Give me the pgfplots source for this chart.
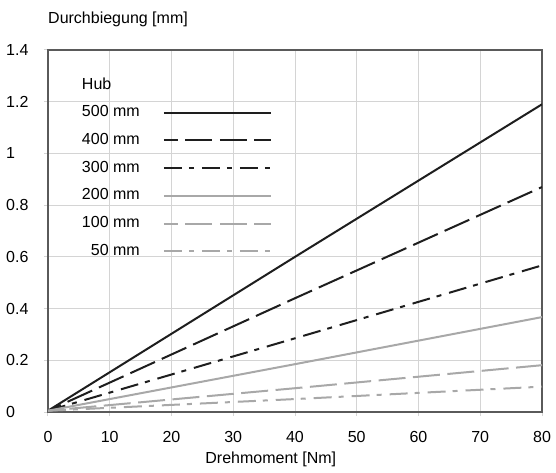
\documentclass[border=0pt]{standalone}
\usepackage{fontspec}
\setmainfont{Liberation Sans}
\usepackage{pgfplots}
\pgfplotsset{compat=1.18}
\definecolor{lgray}{RGB}{168,168,168}
\definecolor{gridc}{RGB}{212,212,212}
\definecolor{axc}{RGB}{90,90,90}
\definecolor{dk}{RGB}{30,30,30}
\newcommand{\ff}{\fontsize{16}{19}\selectfont}
\begin{document}
\begin{tikzpicture}
\begin{axis}[
  name=ax,
  scale only axis,
  width=494pt, height=362pt,
  xmin=0, xmax=80, ymin=0, ymax=1.4,
  xtick={0,10,...,80},
  ytick={0,0.2,...,1.4},
  /pgf/number format/assume math mode=true,
  yticklabel style={/pgf/number format/fixed, /pgf/number format/precision=1},
  grid=major,
  grid style={gridc, line width=1pt},
  axis line style={axc, line width=1.2pt},
  tick align=outside,
  major tick length=4pt,
  tick style={gridc, line width=1pt},
  xtick pos=bottom, ytick pos=left,
  tick label style={font=\ff},
  xticklabel style={anchor=base, yshift=-26pt, inner sep=0pt},
  yticklabel style={anchor=west, xshift=-38pt, inner sep=0pt},
  xlabel={Drehmoment [Nm]},
  ylabel={Durchbiegung [mm]},
  label style={font=\ff},
  xlabel style={at={(axis description cs:0.451,0)}, anchor=base, yshift=-51pt, inner sep=0pt},
  ylabel style={rotate=-90, at={(axis description cs:0,1)}, anchor=base west, yshift=26pt, inner sep=0pt},
  legend plot pos=right,
  legend cell align=right,
  legend image code/.code={\draw[#1] (0pt,0pt) -- (107pt,0pt);},
  legend style={font=\ff, draw=none, fill=none, inner sep=0pt, outer sep=0pt,
    at={(axis description cs:0.0688,0.9254)}, anchor=north west,
    nodes={inner sep=0pt, text height=12pt, text depth=4pt},
    row sep=11.7pt, column sep=23pt},
]
\addlegendimage{empty legend}
\addlegendentry{\rlap{Hub}\phantom{500 mm}}

\addplot[dk, line width=2pt] coordinates {(0,0.005) (40,0.6) (80,1.19)};
\addlegendentry{500 mm}
\addplot[dk, line width=2pt, dash pattern=on 27pt off 7.5pt, dash phase=13pt] coordinates {(0,0.005) (40,0.44) (80,0.87)};
\addlegendentry{400 mm}
\addplot[dk, line width=2pt, dash pattern=on 18pt off 7pt on 5pt off 8pt] coordinates {(0,0.005) (40,0.285) (80,0.567)};
\addlegendentry{300 mm}
\addplot[lgray, line width=2pt] coordinates {(0,0.005) (40,0.185) (80,0.367)};
\addlegendentry{200 mm}
\addplot[lgray, line width=2pt, dash pattern=on 27pt off 7.5pt, dash phase=13pt] coordinates {(0,0.005) (40,0.092) (80,0.181)};
\addlegendentry{100 mm}
\addplot[lgray, line width=2pt, dash pattern=on 18pt off 7pt on 5pt off 8pt] coordinates {(0,0.005) (40,0.05) (80,0.098)};
\addlegendentry{50 mm}
\end{axis}
\path ([shift={(-48pt,-61pt)}]ax.south west) rectangle ([shift={(14pt,50pt)}]ax.north east);
\end{tikzpicture}
\end{document}
